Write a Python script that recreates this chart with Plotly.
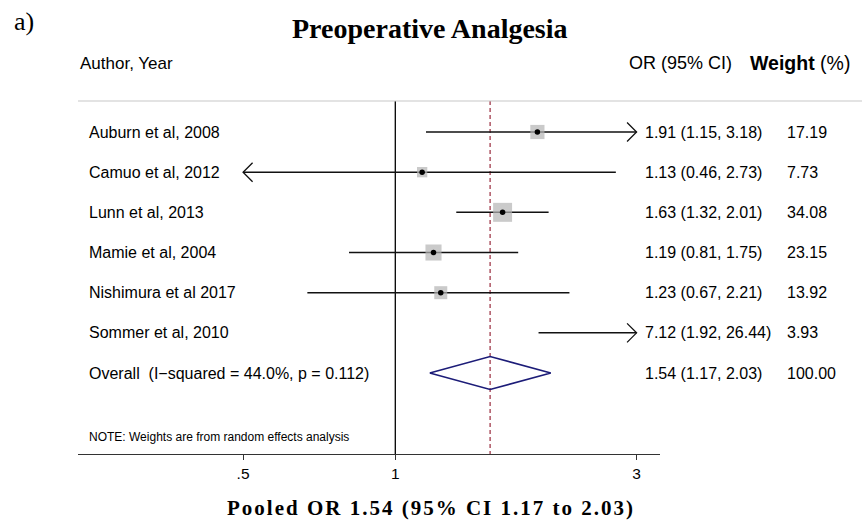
import math
import plotly.graph_objects as go

# ---------------- data ----------------
studies = ["Auburn et al, 2008", "Camuo et al, 2012", "Lunn et al, 2013",
           "Mamie et al, 2004", "Nishimura et al 2017", "Sommer et al, 2010"]
or_est = [1.91, 1.13, 1.63, 1.19, 1.23, 7.12]
ci_lo = [1.15, 0.46, 1.32, 0.81, 0.67, 1.92]
ci_hi = [3.18, 2.73, 2.01, 1.75, 2.21, 26.44]
weights = [17.19, 7.73, 34.08, 23.15, 13.92, 3.93]
pooled_est, pooled_lo, pooled_hi = 1.54, 1.17, 2.03
i_squared, p_het = 44.0, 0.112
tick_vals = [0.5, 1, 3]
tick_text = [".5", "1", "3"]
x_clip = (0.5, 3.0)

# ---------------- layout geometry (pixels) ----------------
W, H = 867, 525
ax_left_px, ax_right_px = 78, 660
one_px, px_per_ln = 395.3, 219.6
top_px, bot_px = 101, 454
row1_px, row_step = 132, 40.17

def xr(px):  # pixel -> log10 data
    return (px - one_px) / px_per_ln / math.log(10)

def yrow(px):
    return 1 + (px - row1_px) / row_step

x_range = [xr(ax_left_px), xr(ax_right_px)]
y_top, y_bot = yrow(top_px), yrow(bot_px)

fig = go.Figure()
n = len(studies)
rows = list(range(1, n + 1))
overall_row = n + 1

# vertical null line and pooled dashed line
fig.add_trace(go.Scatter(x=[1, 1], y=[y_top, y_bot], mode="lines",
                         line=dict(color="black", width=1.3), hoverinfo="skip"))
fig.add_trace(go.Scatter(x=[pooled_est, pooled_est], y=[y_top, y_bot], mode="lines",
                         line=dict(color="#a84858", width=1.4, dash="4px,3px"),
                         hoverinfo="skip"))

# CI lines and arrows
head_dx = 9.5 / px_per_ln
head_dy = 9.5 / row_step
for r, lo, hi in zip(rows, ci_lo, ci_hi):
    lo_c = max(lo, x_clip[0])
    hi_c = min(hi, x_clip[1])
    fig.add_trace(go.Scatter(x=[lo_c, hi_c], y=[r, r], mode="lines",
                             line=dict(color="#111111", width=1.5), hoverinfo="skip"))
    if hi > x_clip[1]:
        fig.add_trace(go.Scatter(
            x=[hi_c * math.exp(-head_dx), hi_c, hi_c * math.exp(-head_dx)],
            y=[r - head_dy, r, r + head_dy], mode="lines",
            line=dict(color="#111111", width=1.3), hoverinfo="skip"))
    if lo < x_clip[0]:
        fig.add_trace(go.Scatter(
            x=[lo_c * math.exp(head_dx), lo_c, lo_c * math.exp(head_dx)],
            y=[r - head_dy, r, r + head_dy], mode="lines",
            line=dict(color="#111111", width=1.3), hoverinfo="skip"))

# weight squares and point estimates (only those inside the axis range)
vis = [i for i in range(n) if x_clip[0] <= or_est[i] <= x_clip[1]]
fig.add_trace(go.Scatter(
    x=[or_est[i] for i in vis], y=[rows[i] for i in vis], mode="markers",
    marker=dict(symbol="square", color="#b3b3b3",
                size=[2.84 * math.sqrt(weights[i]) + 2.4 for i in vis],
                line=dict(width=0)),
    hoverinfo="skip"))
fig.add_trace(go.Scatter(
    x=[or_est[i] for i in vis], y=[rows[i] for i in vis], mode="markers",
    marker=dict(symbol="circle", color="black", size=5.5), hoverinfo="skip"))

# pooled diamond
dh = 0.41
fig.add_trace(go.Scatter(
    x=[pooled_lo, pooled_est, pooled_hi, pooled_est, pooled_lo],
    y=[overall_row, overall_row - dh, overall_row, overall_row + dh, overall_row],
    mode="lines", line=dict(color="#1c1c78", width=1.6), hoverinfo="skip"))

ann = []
sans = "Liberation Sans, Arial, sans-serif"
serif = "Liberation Serif, Times New Roman, serif"

def px2p(px):
    return px / W

def py2p(py):
    return (H - py) / H

body = 16
label_px, or_px, wt_px = 87, 643, 785
for r, name, e, lo, hi, w in zip(rows, studies, or_est, ci_lo, ci_hi, weights):
    ann.append(dict(x=px2p(label_px), y=r, xref="paper", yref="y", text=name,
                    showarrow=False, xanchor="left", yanchor="middle",
                    font=dict(family=sans, size=body, color="black")))
    ann.append(dict(x=px2p(or_px), y=r, xref="paper", yref="y",
                    text=f"{e:.2f} ({lo:.2f}, {hi:.2f})",
                    showarrow=False, xanchor="left", yanchor="middle",
                    font=dict(family=sans, size=body, color="black")))
    ann.append(dict(x=px2p(wt_px), y=r, xref="paper", yref="y", text=f"{w:.2f}",
                    showarrow=False, xanchor="left", yanchor="middle",
                    font=dict(family=sans, size=body, color="black")))

ann.append(dict(x=px2p(label_px), y=overall_row, xref="paper", yref="y",
                text=f"Overall\u00a0\u00a0(I\u2212squared = {i_squared:.1f}%, p = {p_het:.3f})",
                showarrow=False, xanchor="left", yanchor="middle",
                font=dict(family=sans, size=body, color="black")))
ann.append(dict(x=px2p(or_px), y=overall_row, xref="paper", yref="y",
                text=f"{pooled_est:.2f} ({pooled_lo:.2f}, {pooled_hi:.2f})",
                showarrow=False, xanchor="left", yanchor="middle",
                font=dict(family=sans, size=body, color="black")))
ann.append(dict(x=px2p(wt_px), y=overall_row, xref="paper", yref="y",
                text=f"{sum(weights):.2f}",
                showarrow=False, xanchor="left", yanchor="middle",
                font=dict(family=sans, size=body, color="black")))

ann.append(dict(x=px2p(label_px), y=py2p(437), xref="paper", yref="paper",
                text="NOTE: Weights are from random effects analysis",
                showarrow=False, xanchor="left", yanchor="middle",
                font=dict(family=sans, size=12, color="black")))

# headers
ann.append(dict(x=px2p(78), y=py2p(63), xref="paper", yref="paper", text="Author, Year",
                showarrow=False, xanchor="left", yanchor="middle",
                font=dict(family=sans, size=17, color="black")))
ann.append(dict(x=px2p(627), y=py2p(63), xref="paper", yref="paper", text="OR (95% CI)",
                showarrow=False, xanchor="left", yanchor="middle",
                font=dict(family=sans, size=18, color="black")))
ann.append(dict(x=px2p(748), y=py2p(63), xref="paper", yref="paper",
                text="<b>Weight</b> (%)",
                showarrow=False, xanchor="left", yanchor="middle",
                font=dict(family=sans, size=19.5, color="black")))

# title, panel label, footer
ann.append(dict(x=px2p(430), y=py2p(28), xref="paper", yref="paper",
                text="<b>Preoperative Analgesia</b>",
                showarrow=False, xanchor="center", yanchor="middle",
                font=dict(family=serif, size=28, color="black")))
ann.append(dict(x=px2p(12), y=py2p(22), xref="paper", yref="paper", text="a)",
                showarrow=False, xanchor="left", yanchor="middle",
                font=dict(family=serif, size=26, color="black")))
ann.append(dict(x=px2p(431), y=py2p(508), xref="paper", yref="paper",
                text=f"<b>Pooled OR {pooled_est:.2f} (95% CI {pooled_lo:.2f} to {pooled_hi:.2f})</b>",
                showarrow=False, xanchor="center", yanchor="middle",
                font=dict(family=serif, size=21, color="black")))

fig.update_layout(
    width=W, height=H, margin=dict(l=0, r=0, t=0, b=0),
    paper_bgcolor="white", plot_bgcolor="white", showlegend=False,
    annotations=ann,
    shapes=[dict(type="line", xref="paper", yref="paper",
                 x0=px2p(78), x1=px2p(862), y0=py2p(top_px), y1=py2p(top_px),
                 line=dict(color="#c8c8c8", width=1.2))],
    xaxis=dict(type="log", range=x_range, domain=[px2p(ax_left_px), px2p(ax_right_px)],
               tickvals=tick_vals, ticktext=tick_text, ticks="outside", ticklen=5,
               tickcolor="#333333", tickwidth=1.2, showline=True, linecolor="#333333",
               linewidth=1.3, showgrid=False, zeroline=False,
               tickfont=dict(family=sans, size=15.5, color="black")),
    yaxis=dict(range=[y_bot, y_top], domain=[py2p(bot_px), py2p(top_px)],
               visible=False, showgrid=False, zeroline=False),
)

post = """
document.body.style.margin = '0';
document.body.style.overflow = 'hidden';
document.querySelectorAll('text').forEach(function (t) {
  if (t.textContent.indexOf('Pooled OR') === 0) { t.style.letterSpacing = '2px'; }
});
"""

fig.write_html("out.html", post_script=post, config={"displayModeBar": False})
